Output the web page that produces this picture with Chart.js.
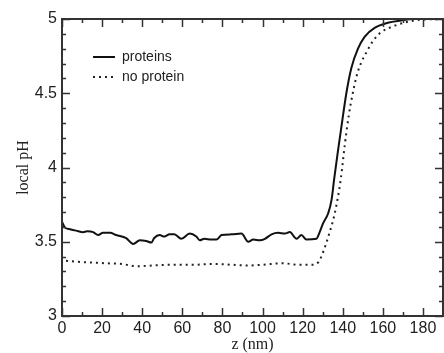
<!DOCTYPE html>
<html lang="en">
<head>
  <meta charset="UTF-8">
  <title>Local pH profile</title>
  <script src="https://cdn.jsdelivr.net/npm/chart.js"></script>
  <style>
    html, body { margin: 0; padding: 0; background: #fff; }
    #wrap { width: 444px; height: 353px; }
  </style>
</head>
<body>
  <div id="wrap"><canvas id="phChart"></canvas></div>

  <script>
    // values
    const zProteins = [0, 1.5, 4, 7, 10.5, 12.5, 15.5, 18, 20.5, 24, 27, 32, 35.5, 38.8, 42, 44.6, 46, 48.7, 51, 53.7,
      56, 59.5, 63.7, 67, 68.7, 71, 74.5, 77, 79.6, 84.6, 89.5, 92.9, 95.4, 98.7, 101.2, 104.5, 107.8, 111.1, 113.6,
      117, 119.4, 121.9, 126.9, 128.5, 130.2, 132.7, 134.4, 135.7, 137.5, 139.3, 141.8, 144.3, 147.6, 150.9, 155.9,
      162.5, 169, 175, 190];
    const phProteins = [3.635, 3.595, 3.584, 3.575, 3.564, 3.57, 3.565, 3.545, 3.56, 3.56, 3.545, 3.525, 3.485, 3.51,
      3.505, 3.495, 3.525, 3.545, 3.535, 3.55, 3.55, 3.52, 3.555, 3.535, 3.51, 3.52, 3.515, 3.515, 3.545, 3.55, 3.555,
      3.50, 3.515, 3.51, 3.52, 3.55, 3.56, 3.555, 3.565, 3.52, 3.545, 3.515, 3.52, 3.565, 3.624, 3.69, 3.78, 3.92, 4.1,
      4.27, 4.5, 4.67, 4.8, 4.88, 4.94, 4.975, 4.99, 5.0, 5.0];

    const zNoProtein = [2, 8, 15, 22, 30, 37, 45, 55, 65, 75, 85, 92, 100, 110, 118, 124, 127.7, 130.2, 132.7, 136,
      139, 141, 143, 145, 147, 149, 152, 155, 159, 165, 172, 179, 190];
    const phNoProtein = [3.372, 3.365, 3.36, 3.355, 3.35, 3.335, 3.34, 3.345, 3.345, 3.35, 3.345, 3.34, 3.345, 3.355,
      3.345, 3.345, 3.36, 3.43, 3.53, 3.69, 3.92, 4.15, 4.35, 4.5, 4.62, 4.7, 4.78, 4.85, 4.91, 4.95, 4.98, 4.995, 5.0];

    const xTicks = [0, 20, 40, 60, 80, 100, 120, 140, 160, 180];
    const yTicks = [3, 3.5, 4, 4.5, 5];

    const toPoints = (xs, ys) => xs.map((x, i) => ({ x: x, y: ys[i] }));

    // frame + inward ticks on all four sides, plus the small legend box
    const framePlugin = {
      id: 'frame',
      afterDatasetsDraw(chart) {
        const { ctx, chartArea: a, scales: { x, y } } = chart;
        ctx.save();
        ctx.strokeStyle = '#333';
        ctx.lineWidth = 2;
        ctx.strokeRect(a.left, a.top, a.right - a.left, a.bottom - a.top);
        ctx.lineWidth = 1.5;
        ctx.beginPath();
        for (let v = 0; v <= 190; v += 10) {
          const px = Math.round(x.getPixelForValue(v)) + 0.5;
          const len = v % 20 === 0 ? 8 : 4;
          ctx.moveTo(px, a.bottom); ctx.lineTo(px, a.bottom - len);
          ctx.moveTo(px, a.top); ctx.lineTo(px, a.top + len);
        }
        for (let k = 0; k <= 20; k++) {
          const v = 3 + k * 0.1;
          const py = Math.round(y.getPixelForValue(v)) + 0.5;
          const len = k % 5 === 0 ? 8 : 4;
          ctx.moveTo(a.left, py); ctx.lineTo(a.left + len, py);
          ctx.moveTo(a.right, py); ctx.lineTo(a.right - len, py);
        }
        ctx.stroke();

        // legend
        ctx.font = '14px "Liberation Sans"';
        ctx.textBaseline = 'middle';
        chart.data.datasets.forEach((ds, i) => {
          const ly = a.top + 38 + i * 20;
          const lx = a.left + 31;
          ctx.strokeStyle = ds.borderColor;
          ctx.lineWidth = 2;
          ctx.setLineDash(ds.borderDash || []);
          ctx.beginPath();
          ctx.moveTo(lx, ly); ctx.lineTo(lx + 22, ly);
          ctx.stroke();
          ctx.setLineDash([]);
          ctx.fillStyle = '#222';
          ctx.fillText(ds.label, lx + 29, ly);
        });
        ctx.restore();
      }
    };

    new Chart(document.getElementById('phChart'), {
      type: 'line',
      data: {
        datasets: [{
          label: 'proteins',
          data: toPoints(zProteins, phProteins),
          borderColor: '#111',
          borderWidth: 2,
          pointRadius: 0,
          cubicInterpolationMode: 'monotone'
        }, {
          label: 'no protein',
          data: toPoints(zNoProtein, phNoProtein),
          borderColor: '#222',
          borderWidth: 2,
          borderDash: [2, 4],
          pointRadius: 0,
          cubicInterpolationMode: 'monotone'
        }]
      },
      options: {
        responsive: true,
        maintainAspectRatio: false,
        animation: false,
        layout: { padding: { top: 19, right: 1, left: 0, bottom: 0 } },
        plugins: {
          tooltip: { enabled: false },
          legend: { display: false }
        },
        scales: {
          x: {
            type: 'linear',
            min: 0,
            max: 190,
            afterBuildTicks: s => { s.ticks = xTicks.map(v => ({ value: v })); },
            afterFit: s => { s.height = 37; },
            grid: { display: false, drawTicks: false },
            border: { display: false },
            ticks: { padding: 3, color: '#222', font: { family: 'Liberation Sans', size: 16 } },
            title: {
              display: true, text: 'z (nm)', color: '#222', padding: 0,
              font: { family: 'Liberation Serif', size: 16, lineHeight: 1 }
            }
          },
          y: {
            min: 3,
            max: 5,
            afterBuildTicks: s => { s.ticks = yTicks.map(v => ({ value: v })); },
            afterFit: s => { s.width = 62; },
            grid: { display: false, drawTicks: false },
            border: { display: false },
            ticks: {
              padding: 5, color: '#222', font: { family: 'Liberation Sans', size: 16 },
              callback: v => String(v)
            },
            title: {
              display: true, text: 'local pH', color: '#222', padding: { top: 14, bottom: 0 },
              font: { family: 'Liberation Serif', size: 16 }
            }
          }
        }
      },
      plugins: [framePlugin]
    });
  </script>
</body>
</html>
